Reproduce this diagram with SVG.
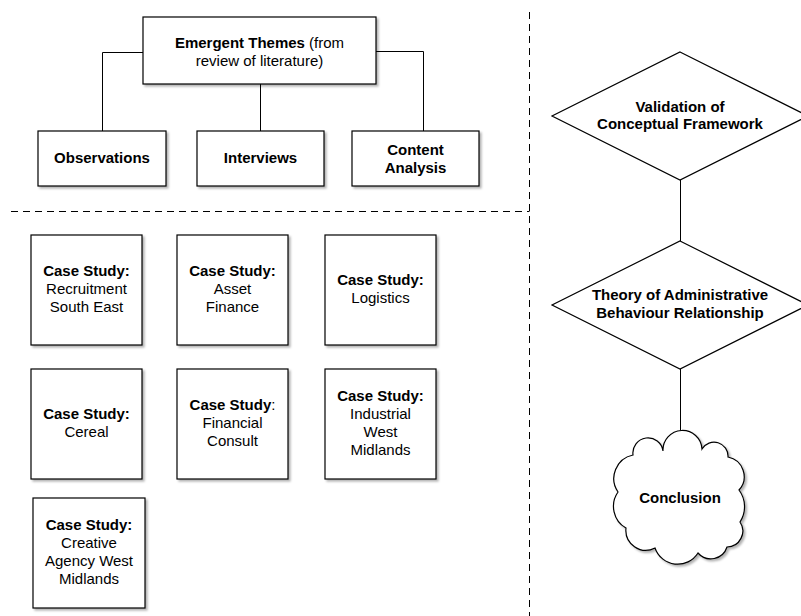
<svg xmlns="http://www.w3.org/2000/svg" width="801" height="616" viewBox="0 0 801 616">
  <style>
    .box { fill: #fff; stroke: #000; stroke-width: 1.2; filter: url(#shadow); }
    .shape { fill: #fff; stroke: #000; stroke-width: 1.2; }
    .link { fill: none; stroke: #000; stroke-width: 1; }
    .divider { fill: none; stroke: #000; stroke-width: 1; stroke-dasharray: 7 5; }
    text { font-family: "Liberation Sans", Arial, Helvetica, sans-serif; font-size: 15px; fill: #000; text-anchor: middle; }
    .b { font-weight: bold; }
  </style>
  <defs>
    <filter id="shadow" x="-10%" y="-10%" width="130%" height="130%">
      <feDropShadow dx="2" dy="2" stdDeviation="1" flood-color="#000" flood-opacity="0.3"/>
    </filter>
  </defs>
  <rect width="801" height="616" fill="#fff"/>

  <!-- section dividers -->
  <g id="dividers">
    <path class="divider" d="M11 211.5 H529.5"/>
    <path class="divider" d="M529.5 12 V616"/>
  </g>

  <!-- connectors -->
  <g id="connectors">
    <path class="link" d="M143 52.5 H102.5 V131"/>
    <path class="link" d="M260.5 84 V131"/>
    <path class="link" d="M376 51.5 H423.5 V131"/>
    <path class="link" d="M680.5 180 V241"/>
    <path class="link" d="M680.5 369 V434"/>
  </g>

  <g id="emergent-themes">
    <rect class="box" x="143" y="17" width="233" height="67"/>
    <text x="259.5" y="48"><tspan class="b">Emergent Themes</tspan> (from</text>
    <text x="259.5" y="66">review of literature)</text>
  </g>

  <g id="observations">
    <rect class="box" x="38" y="131" width="128" height="55"/>
    <text class="b" x="102" y="163">Observations</text>
  </g>

  <g id="interviews">
    <rect class="box" x="197" y="131" width="127" height="55"/>
    <text class="b" x="260.5" y="163">Interviews</text>
  </g>

  <g id="content-analysis">
    <rect class="box" x="352" y="131" width="127" height="55"/>
    <text class="b" x="415.5" y="155">Content</text>
    <text class="b" x="415.5" y="173">Analysis</text>
  </g>

  <g id="case-recruitment">
    <rect class="box" x="31" y="235" width="111" height="110"/>
    <text class="b" x="86.5" y="276">Case Study:</text>
    <text x="86.5" y="294">Recruitment</text>
    <text x="86.5" y="312">South East</text>
  </g>

  <g id="case-asset-finance">
    <rect class="box" x="177" y="235" width="111" height="110"/>
    <text class="b" x="232.5" y="276">Case Study:</text>
    <text x="232.5" y="294">Asset</text>
    <text x="232.5" y="312">Finance</text>
  </g>

  <g id="case-logistics">
    <rect class="box" x="325" y="235" width="111" height="110"/>
    <text class="b" x="380.5" y="285">Case Study:</text>
    <text x="380.5" y="303">Logistics</text>
  </g>

  <g id="case-cereal">
    <rect class="box" x="31" y="369" width="111" height="110"/>
    <text class="b" x="86.5" y="419">Case Study:</text>
    <text x="86.5" y="437">Cereal</text>
  </g>

  <g id="case-financial-consult">
    <rect class="box" x="177" y="369" width="111" height="110"/>
    <text x="232.5" y="410"><tspan class="b">Case Study</tspan>:</text>
    <text x="232.5" y="428">Financial</text>
    <text x="232.5" y="446">Consult</text>
  </g>

  <g id="case-industrial">
    <rect class="box" x="325" y="369" width="111" height="110"/>
    <text class="b" x="380.5" y="401">Case Study:</text>
    <text x="380.5" y="419">Industrial</text>
    <text x="380.5" y="437">West</text>
    <text x="380.5" y="455">Midlands</text>
  </g>

  <g id="case-creative-agency">
    <rect class="box" x="33" y="498" width="112" height="110"/>
    <text class="b" x="89" y="530">Case Study:</text>
    <text x="89" y="548">Creative</text>
    <text x="89" y="566">Agency West</text>
    <text x="89" y="584">Midlands</text>
  </g>

  <g id="validation">
    <polygon class="shape" points="680,52 808,116 680,180 552,116"/>
    <text class="b" x="680" y="112">Validation of</text>
    <text class="b" x="680" y="129">Conceptual Framework</text>
  </g>

  <g id="theory">
    <polygon class="shape" points="680,241 808,305 680,369 552,305"/>
    <text class="b" x="680" y="300">Theory of Administrative</text>
    <text class="b" x="680" y="318">Behaviour Relationship</text>
  </g>

  <g id="conclusion">
    <!-- cloud outline: arcs bulging outward between scalloped valleys -->
    <path class="box" d="M633 455 A15 15 0 0 1 663 451 A19 19 0 0 1 702 449 A14 14 0 0 1 728 457 A20 20 0 0 1 739 490 A28 28 0 0 1 740 522 A16 16 0 0 1 727 547 A17 17 0 0 1 698 553 A24 24 0 0 1 655 548 A20 20 0 0 1 626 528 A25 25 0 0 1 618 492 A24 24 0 0 1 633 455 Z"/>
    <text class="b" x="680" y="503">Conclusion</text>
  </g>
</svg>
